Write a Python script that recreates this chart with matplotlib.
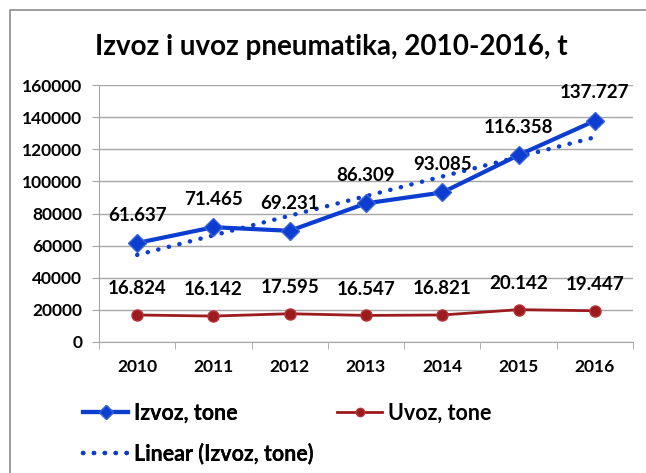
#!/usr/bin/env python3
"""Izvoz i uvoz pneumatika 2010-2016 line chart."""

import matplotlib
matplotlib.use("Agg")
import matplotlib.pyplot as plt
from matplotlib.lines import Line2D
import numpy as np

YEARS = ["2010", "2011", "2012", "2013", "2014", "2015", "2016"]
IZVOZ = [61637, 71465, 69231, 86309, 93085, 116358, 137727]
UVOZ = [16824, 16142, 17595, 16547, 16821, 20142, 19447]
IZVOZ_LABELS = ["61.637", "71.465", "69.231", "86.309", "93.085", "116.358", "137.727"]
UVOZ_LABELS = ["16.824", "16.142", "17.595", "16.547", "16.821", "20.142", "19.447"]

BLUE = "#0B3DD0"
RED = "#9B1B1E"
GRID = "#A6A6A6"
W, H = 646, 473

plt.rcParams["font.family"] = ["Lato", "DejaVu Sans"]
plt.rcParams["font.weight"] = "bold"

fig = plt.figure(figsize=(W / 100, H / 100), dpi=100)
ax = fig.add_axes([99 / W, 1 - 342 / H, (633 - 99) / W, (342 - 85) / H])

x = np.arange(len(YEARS))
izvoz_line, = ax.plot(x, IZVOZ, color=BLUE, linewidth=3, marker="D", markersize=9,
                      markeredgecolor="#3A63D8", label="Izvoz, tone", zorder=4)
uvoz_line, = ax.plot(x, UVOZ, color=RED, linewidth=2, marker="o", markersize=8,
                     markeredgecolor="#B5373A", label="Uvoz, tone", zorder=4)

# linear trendline (least squares, like Excel)
slope, intercept = np.polyfit(x, IZVOZ, 1)
trend_line, = ax.plot(x, slope * x + intercept, color=BLUE, linewidth=3.2,
                      linestyle=(0, (0.05, 2.4)), dash_capstyle="round",
                      label="Linear (Izvoz, tone)", zorder=3)

for xi, yi, txt in zip(x, IZVOZ, IZVOZ_LABELS):
    ax.annotate(txt, (xi, yi), xytext=(0, 20), textcoords="offset points",
                ha="center", va="center", fontsize=13.5, fontweight="bold", zorder=5)
for xi, yi, txt in zip(x, UVOZ, UVOZ_LABELS):
    ax.annotate(txt, (xi, yi), xytext=(0, 19), textcoords="offset points",
                ha="center", va="center", fontsize=13.5, fontweight="bold", zorder=5)

ax.set_xlim(-0.5, len(YEARS) - 0.5)
ax.set_ylim(0, 160000)
ax.set_yticks(np.arange(0, 160001, 20000))
ax.set_yticklabels([str(v) for v in range(0, 160001, 20000)], fontsize=12.5, fontweight="bold")
ax.set_xticks(x)
ax.set_xticklabels(YEARS, fontsize=12.5, fontweight="bold")
ax.set_xticks(np.arange(-0.5, len(YEARS)), minor=True)
ax.tick_params(axis="x", which="major", length=0, pad=12)
ax.tick_params(axis="x", which="minor", length=5, color=GRID)
ax.tick_params(axis="y", length=5, color=GRID, pad=7)
ax.grid(True, axis="y", color=GRID, linewidth=1)
ax.set_axisbelow(True)
for side in ("top", "right"):
    ax.spines[side].set_visible(False)
for side in ("left", "bottom"):
    ax.spines[side].set_color(GRID)

fig.text(331 / W, 1 - 55 / H, "Izvoz i uvoz pneumatika, 2010-2016, t",
         ha="center", va="baseline", fontsize=20, fontweight="bold")

leg_kw = dict(frameon=False, loc="upper left", prop={"weight": "bold", "size": 15.5},
              handlelength=2.1, handletextpad=0.25, labelspacing=0.88,
              borderpad=0, borderaxespad=0, markerscale=0.75)
leg1 = fig.legend(handles=[izvoz_line, trend_line], bbox_to_anchor=(83 / W, 1 - 403 / H), **leg_kw)
fig.legend(handles=[uvoz_line], bbox_to_anchor=(337 / W, 1 - 403 / H), **leg_kw)
fig.add_artist(leg1)

# outer chart border (left and top edges visible)
fig.add_artist(Line2D([9.5 / W, 9.5 / W, 1.0], [0.0, 1 - 10.5 / H, 1 - 10.5 / H],
                      transform=fig.transFigure, color="#8C8C8C", linewidth=1.2))

fig.savefig("out.png", dpi=100)
